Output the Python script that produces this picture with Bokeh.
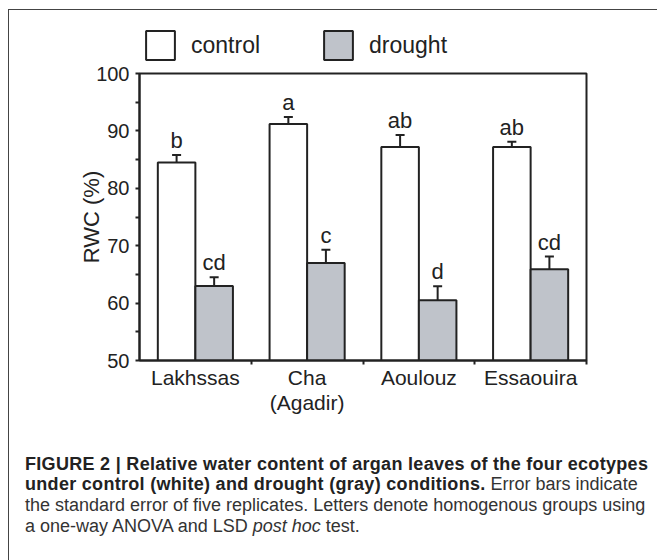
import numpy as np
from bokeh.plotting import figure
from bokeh.models import (ColumnDataSource, FixedTicker, Whisker, TeeHead, Legend,
                          LegendItem, Div)
from bokeh.layouts import column
from bokeh.core.properties import value
from bokeh.embed import file_html
from bokeh.resources import INLINE

# ---- data ----
categories = ["Lakhssas", "Cha\n(Agadir)", "Aoulouz", "Essaouira"]
control = [84.5, 91.2, 87.2, 87.2]
control_se = [1.3, 1.2, 2.1, 0.9]
drought = [63.0, 67.0, 60.5, 65.9]
drought_se = [1.5, 2.3, 2.45, 2.2]
control_letters = ["b", "a", "ab", "ab"]
drought_letters = ["cd", "c", "d", "cd"]
y_ticks = [50, 60, 70, 80, 90, 100]
y_minor = [55, 65, 75, 85, 95]

FONT = "Liberation Sans"
INK = "#222222"
GRAY = "#bfc3ca"
BW = 0.336  # bar width (fraction of a group)

idx = np.arange(len(categories))
centers = idx + 0.5


def src(vals, se, letters, shift):
    v = np.array(vals)
    s = np.array(se)
    return ColumnDataSource(dict(x=centers + shift, top=v, lower=v - s, upper=v + s,
                                 letter=letters))


s_ctrl = src(control, control_se, control_letters, -BW / 2)
s_dr = src(drought, drought_se, drought_letters, BW / 2)

# ---- main chart ----
p = figure(width=640, height=356, x_range=(0, 4), y_range=(50, 100),
           output_backend="svg", toolbar_location=None)
p.min_border = 0
p.min_border_left = 130
p.min_border_right = 63
p.min_border_top = 9
p.min_border_bottom = 60
p.xgrid.visible = False
p.ygrid.visible = False
p.outline_line_color = INK
p.outline_line_width = 2
p.background_fill_color = "white"
p.border_fill_color = "white"

p.vbar(x="x", top="top", bottom=50, width=BW, source=s_ctrl,
       fill_color="white", line_color=INK, line_width=2)
p.vbar(x="x", top="top", bottom=50, width=BW, source=s_dr,
       fill_color=GRAY, line_color=INK, line_width=2)

for s in (s_ctrl, s_dr):
    w = Whisker(base="x", lower="lower", upper="upper", source=s,
                line_color=INK, line_width=2,
                upper_head=TeeHead(size=9, line_color=INK, line_width=2),
                lower_head=TeeHead(size=9, line_color=INK, line_width=2))
    p.add_layout(w)
    p.text(x="x", y="upper", text="letter", source=s, text_align="center",
           text_baseline="bottom", y_offset=-2, text_font=value(FONT),
           text_font_size="22px", text_color=INK)

ya = p.yaxis[0]
ya.ticker = FixedTicker(ticks=y_ticks, minor_ticks=y_minor)
ya.axis_line_width = 2
ya.axis_line_color = INK
ya.major_tick_line_width = 2
ya.minor_tick_line_width = 2
ya.major_tick_line_color = INK
ya.minor_tick_line_color = INK
ya.major_tick_in = 0
ya.major_tick_out = 4
ya.minor_tick_in = 0
ya.minor_tick_out = 4
ya.major_label_standoff = 6
ya.major_label_text_font = FONT
ya.major_label_text_font_size = "20px"
ya.major_label_text_color = INK
ya.axis_label = "RWC (%)"
ya.axis_label_text_font = FONT
ya.axis_label_text_font_size = "22px"
ya.axis_label_text_font_style = "normal"
ya.axis_label_text_color = INK
ya.axis_label_standoff = -11

xa = p.xaxis[0]
xa.ticker = FixedTicker(ticks=list(centers), minor_ticks=list(idx + 1))
xa.major_label_overrides = {float(c): lab for c, lab in zip(centers, categories)}
xa.axis_line_width = 2
xa.axis_line_color = INK
xa.major_tick_out = 0
xa.major_tick_in = 0
xa.minor_tick_in = 0
xa.minor_tick_out = 4
xa.minor_tick_line_width = 2
xa.minor_tick_line_color = INK
xa.major_label_standoff = 1
xa.major_label_text_font = FONT
xa.major_label_text_font_size = "21px"
xa.major_label_text_color = INK
xa.major_label_text_line_height = 1.1

# ---- legend strip (its own small figure, above the chart) ----
lf = figure(width=640, height=54, x_range=(0, 1), y_range=(0, 1),
            output_backend="svg", toolbar_location=None)
lf.min_border = 0
lf.min_border_left = 130
lf.min_border_right = 63
lf.axis.visible = False
lf.xgrid.visible = False
lf.ygrid.visible = False
lf.outline_line_color = None
lf.background_fill_alpha = 0
lf.border_fill_alpha = 0
lr_c = lf.vbar(x="x", top="top", bottom=50, width=BW, source=s_ctrl,
               fill_color="white", line_color=INK, line_width=2, visible=False)
lr_d = lf.vbar(x="x", top="top", bottom=50, width=BW, source=s_dr,
               fill_color=GRAY, line_color=INK, line_width=2, visible=False)
legend = Legend(items=[LegendItem(label="control", renderers=[lr_c]),
                       LegendItem(label="drought", renderers=[lr_d])],
                location=(3, 1), orientation="horizontal",
                glyph_width=36, glyph_height=36, label_standoff=13, spacing=60,
                padding=0, margin=0, border_line_color=None,
                background_fill_alpha=0, inactive_fill_alpha=0,
                label_text_font=FONT,
                label_text_font_size="23px", label_text_color=INK)
lf.add_layout(legend)

caption = Div(width=640, height=130, text=(
    '<div style="font-family:\'Liberation Sans\';font-size:18px;line-height:20.8px;'
    'color:#333;white-space:nowrap;padding-left:11px;padding-top:28.5px;">'
    '<b style="color:#222;letter-spacing:0.3px">FIGURE 2 | Relative water content of argan leaves of the four ecotypes</b><br>'
    '<b style="color:#222;letter-spacing:0.3px">under control (white) and drought (gray) conditions.</b> Error bars indicate<br>'
    'the standard error of five replicates. Letters denote homogenous groups using<br>'
    'a one-way ANOVA and LSD <i>post hoc</i> test.</div>'))

layout = column(lf, p, caption, spacing=0,
                styles={"margin-left": "8px", "margin-top": "9px",
                        "border-left": "1px solid #444", "border-top": "1px solid #444",
                        "background": "white"})

open("out.html", "w").write(file_html(layout, INLINE))
